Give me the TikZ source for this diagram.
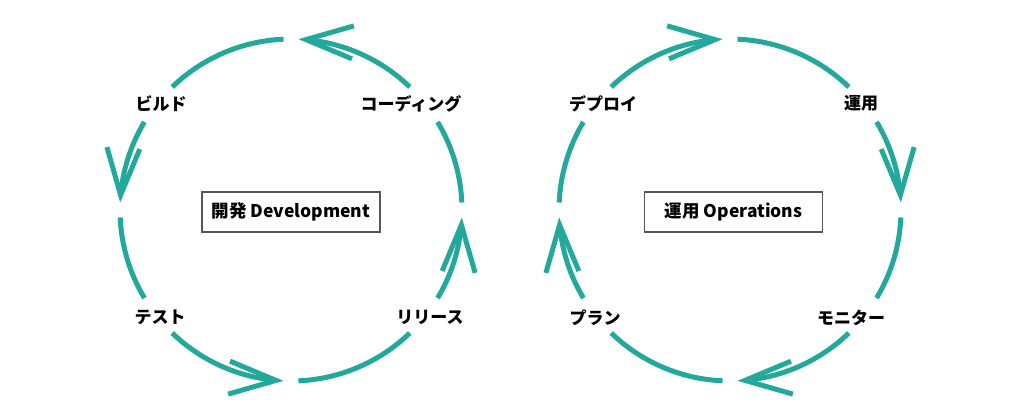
\documentclass[tikz,border=0pt]{standalone}
\usepackage{fontspec}
\setmainfont{Noto Sans CJK JP}
\usetikzlibrary{arrows.meta,bending}
\definecolor{teal1}{HTML}{22A99B}
\definecolor{boxgray}{HTML}{555555}
\tikzset{
  flow/.style={draw=teal1, line width=5pt},
  flowarrow/.style={flow, -{Straight Barb[sharp, flex, length=47pt, width=33pt]}},
  steplabel/.style={font=\fontsize{17}{17}\selectfont\bfseries, inner sep=0pt, text=black},
  titlebox/.style={draw=boxgray, line width=1.3pt, minimum width=178pt, minimum height=40pt, inner sep=0pt, font=\fontsize{17.5}{17.5}\selectfont\bfseries}
}
\begin{document}
\begin{tikzpicture}[x=1pt,y=1pt]
\useasboundingbox (0,0) rectangle (1020,-420);
\fill[white] (0,0) rectangle (1020,-420);
\def\r{171}
% centres
\coordinate (cL) at (291,-210);
\coordinate (cR) at (730,-210);
% labels left
\node[steplabel] (build) at (161,-103.5) {ビルド};
\node[steplabel] (coding) at (411,-103.5) {コーディング};
\node[steplabel] (test) at (160,-317.5) {テスト};
\node[steplabel] (release) at (430,-317.5) {リリース};
\node[titlebox] (dev) at (291,-212) {開発 Development};
% labels right
\node[steplabel] (deploy) at (603,-103.5) {デプロイ};
\node[steplabel] (ops) at (861,-103.5) {運用};
\node[steplabel] (plan) at (595,-317.5) {プラン};
\node[steplabel] (monitor) at (851,-317.5) {モニター};
\node[titlebox] (opsbox) at (733.5,-212) {運用 Operations};
% left cycle (counter-clockwise)
\draw[flowarrow] (cL) ++(46:\r) arc[start angle=46, end angle=87.5, radius=\r];
\draw[flow] (cL) ++(92.5:\r) arc[start angle=92.5, end angle=134, radius=\r];
\draw[flowarrow] (cL) ++(149:\r) arc[start angle=149, end angle=177.5, radius=\r];
\draw[flow] (cL) ++(182.5:\r) arc[start angle=182.5, end angle=211, radius=\r];
\draw[flowarrow] (cL) ++(226:\r) arc[start angle=226, end angle=267.5, radius=\r];
\draw[flow] (cL) ++(272.5:\r) arc[start angle=272.5, end angle=314, radius=\r];
\draw[flowarrow] (cL) ++(329:\r) arc[start angle=329, end angle=357.5, radius=\r];
\draw[flow] (cL) ++(2.5:\r) arc[start angle=2.5, end angle=31, radius=\r];
% right cycle (clockwise)
\draw[flowarrow] (cR) ++(134:\r) arc[start angle=134, end angle=92.5, radius=\r];
\draw[flow] (cR) ++(87.5:\r) arc[start angle=87.5, end angle=46, radius=\r];
\draw[flowarrow] (cR) ++(31:\r) arc[start angle=31, end angle=2.5, radius=\r];
\draw[flow] (cR) ++(-2.5:\r) arc[start angle=-2.5, end angle=-31, radius=\r];
\draw[flowarrow] (cR) ++(-46:\r) arc[start angle=-46, end angle=-87.5, radius=\r];
\draw[flow] (cR) ++(-92.5:\r) arc[start angle=-92.5, end angle=-134, radius=\r];
\draw[flowarrow] (cR) ++(-149:\r) arc[start angle=-149, end angle=-177.5, radius=\r];
\draw[flow] (cR) ++(177.5:\r) arc[start angle=177.5, end angle=149, radius=\r];
\end{tikzpicture}
\end{document}
